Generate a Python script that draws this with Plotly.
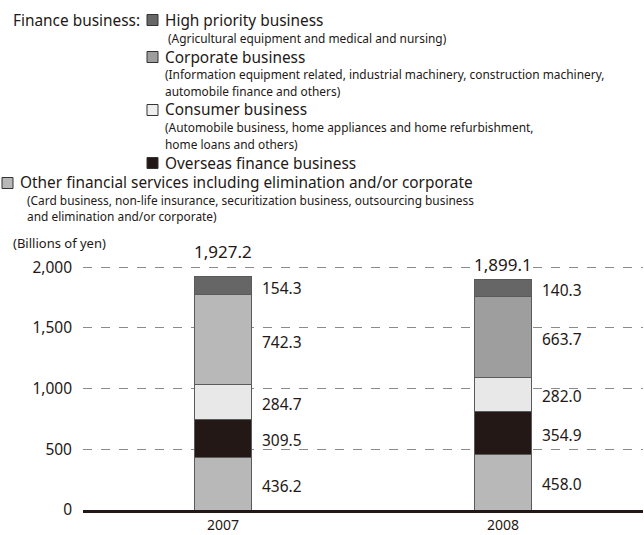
import plotly.graph_objects as go

# data
years = ["2007", "2008"]
other_services = [436.2, 458.0]
overseas = [309.5, 354.9]
consumer = [284.7, 282.0]
corporate = [742.3, 663.7]
high_priority = [154.3, 140.3]
totals = [1927.2, 1899.1]
y_ticks = [0, 500, 1000, 1500, 2000]

# plot area in pixels
L, W, T, H = 83, 560, 243, 267
FONT = "Noto Sans"
INK = "#231815"


def px(x):
    return (x - L) / W


def py(y):
    return (T + H - y) / H


series = [
    ("Other financial services", other_services, ["#b8b8b8", "#b8b8b8"]),
    ("Overseas finance business", overseas, [INK, INK]),
    ("Consumer business", consumer, ["#e8e8e8", "#e8e8e8"]),
    ("Corporate business", corporate, ["#b8b8b8", "#9e9e9e"]),
    ("High priority business", high_priority, ["#666666", "#666666"]),
]

fig = go.Figure()
for name, vals, cols in series:
    fig.add_trace(go.Bar(
        x=years, y=vals, name=name, width=0.205,
        marker=dict(color=cols, line=dict(color="#5a5a5a", width=1)),
        showlegend=False, hoverinfo="skip",
    ))

# value labels at the middle of each segment, right of the bar
base = [0.0, 0.0]
for name, vals, cols in series:
    for i, v in enumerate(vals):
        fig.add_annotation(
            x=i, y=base[i] + v / 2, text=f"{v:.1f}",
            xanchor="left", yanchor="middle", xshift=37, yshift=-2,
            showarrow=False, font=dict(family=FONT, size=15.5, color=INK),
        )
        base[i] += v

# totals
for i, (t, shift) in enumerate(zip(totals, [12, 3])):
    fig.add_annotation(
        x=i, y=t, text=f"{t:,.1f}", yanchor="bottom", yshift=shift,
        showarrow=False, bgcolor="white", borderpad=0,
        font=dict(family=FONT, size=17, color=INK),
    )

fig.add_annotation(x=px(11), y=py(243), xref="paper", yref="paper",
                   text="(Billions of yen)", xanchor="left", yanchor="middle",
                   showarrow=False, font=dict(family=FONT, size=13, color=INK))

# legend drawn by hand
legend = [
    # square x, square y, fill, title, title x, sub lines, sub x, sub ys
    (147, 20, "#666666", "High priority business", 163,
     ["(Agricultural equipment and medical and nursing)"], 166, [38]),
    (147, 57, "#9e9e9e", "Corporate business", 163,
     ["(Information equipment related, industrial machinery, construction machinery,",
      "automobile finance and others)"], 163, [74.5, 90.5]),
    (147, 110, "#eeeeee", "Consumer business", 163,
     ["(Automobile business, home appliances and home refurbishment,",
      "home loans and others)"], 163, [127.5, 143.5]),
    (147, 163, INK, "Overseas finance business", 163, [], 163, []),
    (2, 183, "#b8b8b8", "Other financial services including elimination and/or corporate", 18,
     ["(Card business, non-life insurance, securitization business, outsourcing business",
      "and elimination and/or corporate)"], 25, [200, 215.5]),
]
fig.add_annotation(x=px(11), y=py(20), xref="paper", yref="paper",
                   text="Finance business:", xanchor="left", yanchor="middle",
                   showarrow=False, font=dict(family=FONT, size=15.4, color=INK))
for sx, sy, fill, title, tx, subs, subx, subys in legend:
    fig.add_shape(type="rect", xref="paper", yref="paper",
                  x0=px(sx), x1=px(sx + 11), y0=py(sy - 5.5), y1=py(sy + 5.5),
                  fillcolor=fill, line=dict(color="#333333", width=1))
    fig.add_annotation(x=px(tx), y=py(sy), xref="paper", yref="paper",
                       text=title, xanchor="left", yanchor="middle",
                       showarrow=False, font=dict(family=FONT, size=15.4, color=INK))
    for s, yy in zip(subs, subys):
        fig.add_annotation(x=px(subx), y=py(yy), xref="paper", yref="paper",
                           text=s, xanchor="left", yanchor="middle",
                           showarrow=False, font=dict(family=FONT, size=11.9, color=INK))

fig.update_layout(
    barmode="stack", width=644, height=535,
    margin=dict(l=L, r=644 - L - W, t=T, b=535 - T - H),
    plot_bgcolor="white", paper_bgcolor="white",
    font=dict(family=FONT, color=INK),
)
fig.update_xaxes(type="category", range=[-0.5, 1.5], showline=True, linewidth=3,
                 linecolor=INK, ticks="", tickfont=dict(size=14), showgrid=False,
                 ticklabelstandoff=0, automargin=False)
fig.update_yaxes(range=[0, 2200], tickvals=y_ticks, tickformat=",", showgrid=True,
                 gridcolor="#8a8a8a", griddash="dash", gridwidth=1, zeroline=False,
                 tickfont=dict(size=15.5), ticks="", ticklabelstandoff=10,
                 automargin=False)

fig.write_html("out.html", config={"displayModeBar": False},
               post_script="document.body.style.margin='0';")
